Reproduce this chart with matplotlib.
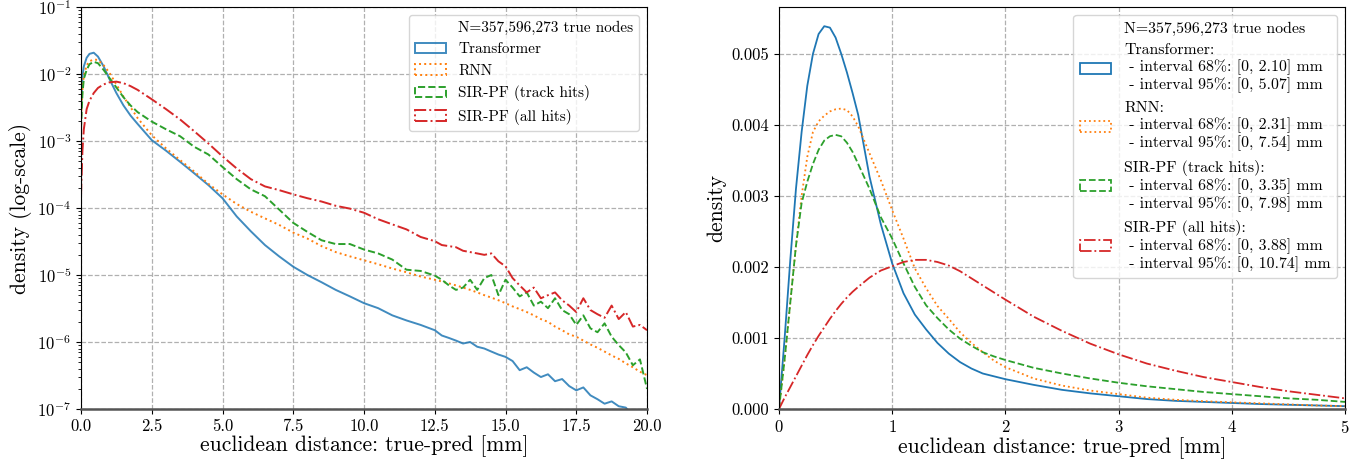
import matplotlib
matplotlib.use("Agg")
import matplotlib.pyplot as plt
from matplotlib.patches import Patch

plt.rcParams['font.family'] = 'serif'
plt.rcParams['font.serif'] = ['cmr10', 'DejaVu Serif']
plt.rcParams['mathtext.fontset'] = 'cm'
plt.rcParams['axes.formatter.use_mathtext'] = True
plt.rcParams['axes.unicode_minus'] = False

# ---------------- data ----------------
series_names = ["Transformer", "RNN", "SIR-PF (track hits)", "SIR-PF (all hits)"]
series_colors = ["#1f77b4", "#ff7f0e", "#2ca02c", "#d62728"]
series_styles = ["-", ":", "--", "-."]
n_total = "N=357,596,273 true nodes"
interval_68 = ["2.10", "2.31", "3.35", "3.88"]
interval_95 = ["5.07", "7.54", "7.98", "10.74"]

# left panel (log density vs distance, 0..20 mm)
left_x = [0, 0.05, 0.1, 0.2, 0.3, 0.45, 0.6, 0.8, 1.0, 1.25, 1.5, 1.75, 2.0, 2.5,
          3.0, 3.5, 4.0, 4.5, 5.0, 5.5, 6.0, 6.5, 7.0, 7.5, 8.0, 8.5, 9.0, 9.5,
          10.0, 10.5, 11.0, 11.5, 12.0, 12.5, 12.75, 13.0, 13.25, 13.5, 13.75,
          14.0, 14.25, 14.5, 14.75, 15.0, 15.25, 15.5, 15.75, 16.0, 16.25, 16.5,
          16.75, 17.0, 17.25, 17.5, 17.75, 18.0, 18.25, 18.5, 18.75, 19.0, 19.25,
          19.5, 19.75, 20.0]
left_transformer = [3e-3, 9.0e-3, 1.3e-2, 1.75e-2, 2.0e-2, 2.08e-2, 1.82e-2, 1.3e-2,
                    8.5e-3, 5.2e-3, 3.4e-3, 2.4e-3, 1.8e-3, 1.03e-3, 7.2e-4, 4.9e-4,
                    3.3e-4, 2.2e-4, 1.4e-4, 7.5e-5, 4.5e-5, 2.8e-5, 1.9e-5, 1.33e-5,
                    1.0e-5, 7.8e-6, 6.0e-6, 4.8e-6, 3.8e-6, 3.2e-6, 2.5e-6, 2.1e-6,
                    1.8e-6, 1.5e-6, 1.25e-6, 1.15e-6, 1.05e-6, 9.5e-7, 1.0e-6, 8.5e-7,
                    8.0e-7, 7.2e-7, 6.5e-7, 6.0e-7, 5.2e-7, 3.8e-7, 4.2e-7, 3.5e-7,
                    3.0e-7, 3.3e-7, 2.6e-7, 2.8e-7, 2.2e-7, 1.9e-7, 2.1e-7, 1.6e-7,
                    1.4e-7, 1.2e-7, 1.3e-7, 1.1e-7, 1.05e-7, 8e-8, 7e-8, 6e-8]
left_rnn = [2e-3, 6e-3, 9.5e-3, 1.35e-2, 1.55e-2, 1.65e-2, 1.62e-2, 1.35e-2, 1.05e-2,
            7e-3, 4.6e-3, 3.2e-3, 2.2e-3, 1.22e-3, 7.8e-4, 5.2e-4, 3.5e-4, 2.3e-4,
            1.6e-4, 1.15e-4, 8.8e-5, 7.0e-5, 5.6e-5, 4.3e-5, 3.5e-5, 2.7e-5, 2.2e-5,
            1.9e-5, 1.66e-5, 1.45e-5, 1.25e-5, 1.1e-5, 9.5e-6, 8.5e-6, 8.0e-6, 7.5e-6,
            7.0e-6, 6.5e-6, 6.0e-6, 5.5e-6, 5.0e-6, 4.6e-6, 4.2e-6, 3.8e-6, 3.4e-6,
            3.1e-6, 2.8e-6, 2.5e-6, 2.2e-6, 2.0e-6, 1.7e-6, 1.5e-6, 1.3e-6, 1.2e-6,
            1.05e-6, 9.2e-7, 8.2e-7, 7.2e-7, 6.3e-7, 5.6e-7, 4.8e-7, 4.2e-7, 3.6e-7,
            3.2e-7]
left_track = [1.5e-3, 5e-3, 8.5e-3, 1.15e-2, 1.4e-2, 1.52e-2, 1.45e-2, 1.15e-2, 8.8e-3,
              6.3e-3, 4.5e-3, 3.4e-3, 2.7e-3, 1.95e-3, 1.5e-3, 1.18e-3, 8.2e-4, 6.3e-4,
              4.1e-4, 2.7e-4, 1.9e-4, 1.5e-4, 9.5e-5, 6.0e-5, 4.4e-5, 3.3e-5, 2.9e-5,
              2.9e-5, 2.4e-5, 2.1e-5, 1.7e-5, 1.2e-5, 1.15e-5, 9.8e-6, 8.5e-6, 7.0e-6,
              6.0e-6, 6.5e-6, 8.5e-6, 6.0e-6, 9.0e-6, 1.0e-5, 5.0e-6, 8.5e-6, 6.5e-6,
              4.8e-6, 5.5e-6, 3.5e-6, 4.0e-6, 3.2e-6, 4.5e-6, 3.0e-6, 2.6e-6, 1.8e-6,
              2.5e-6, 1.6e-6, 1.4e-6, 1.9e-6, 1.2e-6, 9e-7, 7e-7, 4.5e-7, 5.5e-7, 2.0e-7]
left_all = [1.5e-4, 7e-4, 1.5e-3, 3.0e-3, 4.0e-3, 5.2e-3, 6.2e-3, 7.0e-3, 7.5e-3,
            7.7e-3, 7.3e-3, 6.6e-3, 5.8e-3, 4.2e-3, 3.0e-3, 2.1e-3, 1.4e-3, 9.2e-4,
            5.9e-4, 3.9e-4, 2.7e-4, 2.1e-4, 1.85e-4, 1.6e-4, 1.4e-4, 1.25e-4, 1.08e-4,
            9.8e-5, 8.5e-5, 6.8e-5, 5.7e-5, 4.8e-5, 3.7e-5, 3.2e-5, 2.8e-5, 2.7e-5,
            2.6e-5, 2.3e-5, 2.2e-5, 2.1e-5, 2.0e-5, 2.1e-5, 1.6e-5, 1.35e-5, 9e-6,
            7e-6, 5.5e-6, 6.5e-6, 4.5e-6, 5.0e-6, 5.5e-6, 4.2e-6, 3.5e-6, 2.8e-6,
            4.5e-6, 3.0e-6, 2.6e-6, 2.3e-6, 3.5e-6, 2.2e-6, 2.8e-6, 1.7e-6, 1.8e-6,
            1.5e-6]

# right panel (linear density vs distance, 0..5 mm)
right_x = [0, 0.05, 0.1, 0.15, 0.2, 0.25, 0.3, 0.35, 0.4, 0.45, 0.5, 0.55, 0.6, 0.65,
           0.7, 0.8, 0.9, 1.0, 1.1, 1.2, 1.3, 1.4, 1.5, 1.6, 1.7, 1.8, 1.9, 2.0,
           2.25, 2.5, 2.75, 3.0, 3.25, 3.5, 3.75, 4.0, 4.25, 4.5, 4.75, 5.0]
right_transformer = [0, 0.0010, 0.0021, 0.0031, 0.0039, 0.00455, 0.00500, 0.00528,
                     0.00539, 0.00537, 0.00523, 0.00500, 0.00474, 0.00445, 0.00414,
                     0.00327, 0.00260, 0.00205, 0.00163, 0.00133, 0.00112, 0.00093,
                     0.00078, 0.00066, 0.00057, 0.00050, 0.00046, 0.00042, 0.00034,
                     0.00027, 0.00022, 0.00018, 0.00014, 0.000115, 0.0001, 0.000085,
                     0.00007, 0.00006, 0.00005, 0.00004]
right_rnn = [0, 0.0007, 0.0015, 0.0023, 0.0030, 0.00355, 0.0039, 0.00405, 0.00413,
             0.00419, 0.00422, 0.00423, 0.00421, 0.00412, 0.00398, 0.0036, 0.00322,
             0.0028, 0.0024, 0.00198, 0.0017, 0.00145, 0.00127, 0.00108, 0.00093,
             0.0008, 0.00068, 0.00059, 0.00043, 0.00033, 0.00026, 0.00021, 0.00016,
             0.00013, 0.00011, 0.000094, 0.00008, 0.000065, 0.00005, 0.00004]
right_track = [0, 0.0007, 0.0015, 0.0023, 0.0029, 0.0032, 0.00345, 0.00365, 0.00378,
               0.00384, 0.00386, 0.00384, 0.00375, 0.00362, 0.00345, 0.0031, 0.0027,
               0.0024, 0.00205, 0.00172, 0.00146, 0.00128, 0.00112, 0.00099, 0.00089,
               0.0008, 0.00074, 0.00069, 0.00058, 0.0005, 0.00043, 0.00037, 0.00032,
               0.00028, 0.00024, 0.00021, 0.00018, 0.00015, 0.00013, 0.0001]
right_all = [0, 0.00016, 0.00031, 0.00046, 0.00061, 0.00076, 0.0009, 0.00103, 0.00115,
             0.00127, 0.00138, 0.00148, 0.00157, 0.00165, 0.00172, 0.00185, 0.00195,
             0.00201, 0.00207, 0.0021, 0.0021, 0.00207, 0.00202, 0.00194, 0.00184,
             0.00174, 0.00164, 0.00154, 0.0013, 0.0011, 0.00092, 0.00077, 0.00064,
             0.00054, 0.00045, 0.00038, 0.00031, 0.00025, 0.0002, 0.00015]

left_series = [left_transformer, left_rnn, left_track, left_all]
right_series = [right_transformer, right_rnn, right_track, right_all]

# ---------------- figure ----------------
fig = plt.figure(figsize=(13.59, 4.65), dpi=100)
ax1 = fig.add_axes([0.0596, 0.1204, 0.4165, 0.8645])
ax2 = fig.add_axes([0.5732, 0.1204, 0.4165, 0.8645])

grid_kw = dict(color="#b0b0b0", linestyle="--", linewidth=0.9)

for vals, c, ls in zip(left_series, series_colors, series_styles):
    ax1.plot(left_x, vals, color=c, linestyle=ls, linewidth=1.4,
             alpha=0.85 if ls == "-" else 1.0)
ax1.set_yscale("log")
ax1.set_xlim(0, 20)
ax1.set_ylim(1e-7, 1e-1)
ax1.set_xticks([0, 2.5, 5, 7.5, 10, 12.5, 15, 17.5, 20])
ax1.set_xticklabels(["0.0", "2.5", "5.0", "7.5", "10.0", "12.5", "15.0", "17.5", "20.0"])
ax1.grid(True, which="major", **grid_kw)
ax1.set_xlabel("euclidean distance: true-pred [mm]", fontsize=15.5, labelpad=1)
ax1.set_ylabel("density (log-scale)", fontsize=15.5, labelpad=4)

for vals, c, ls in zip(right_series, series_colors, series_styles):
    ax2.plot(right_x, vals, color=c, linestyle=ls, linewidth=1.3)
ax2.set_xlim(0, 5)
ax2.set_ylim(0, 0.00566)
ax2.set_xticks([0, 1, 2, 3, 4, 5])
ax2.set_yticks([0, 0.001, 0.002, 0.003, 0.004, 0.005])
ax2.set_yticklabels(["0.000", "0.001", "0.002", "0.003", "0.004", "0.005"])
ax2.grid(True, **grid_kw)
ax2.set_xlabel("euclidean distance: true-pred [mm]", fontsize=15.5, labelpad=1)
ax2.set_ylabel("density", fontsize=15.5, labelpad=4)

for ax in (ax1, ax2):
    ax.set_axisbelow(True)
    ax.tick_params(labelsize=12, direction="out")
    ax.spines["bottom"].set_color("#555555")
    ax.spines["bottom"].set_linewidth(1.8)

# legends
blank = Patch(facecolor="none", edgecolor="none")
h1 = [blank] + [Patch(facecolor="none", edgecolor=c, linestyle=ls, linewidth=1.4,
                      alpha=0.85 if ls == "-" else 1.0)
                for c, ls in zip(series_colors, series_styles)]
ax1.legend(h1, [n_total] + series_names, loc="upper right", fontsize=11,
           labelspacing=0.5, framealpha=0.8, edgecolor="#cccccc")

h2 = [blank] + [Patch(facecolor="none", edgecolor=c, linestyle=ls, linewidth=1.3)
                for c, ls in zip(series_colors, series_styles)]
labels2 = [n_total] + [
    f"{n}:\n - interval 68%: [0, {a}] mm\n - interval 95%: [0, {b}] mm"
    for n, a, b in zip(series_names, interval_68, interval_95)]
ax2.legend(h2, labels2, loc="upper right", fontsize=11.4, labelspacing=0.52,
           framealpha=0.8, edgecolor="#cccccc")

fig.savefig("out.png", dpi=100)
